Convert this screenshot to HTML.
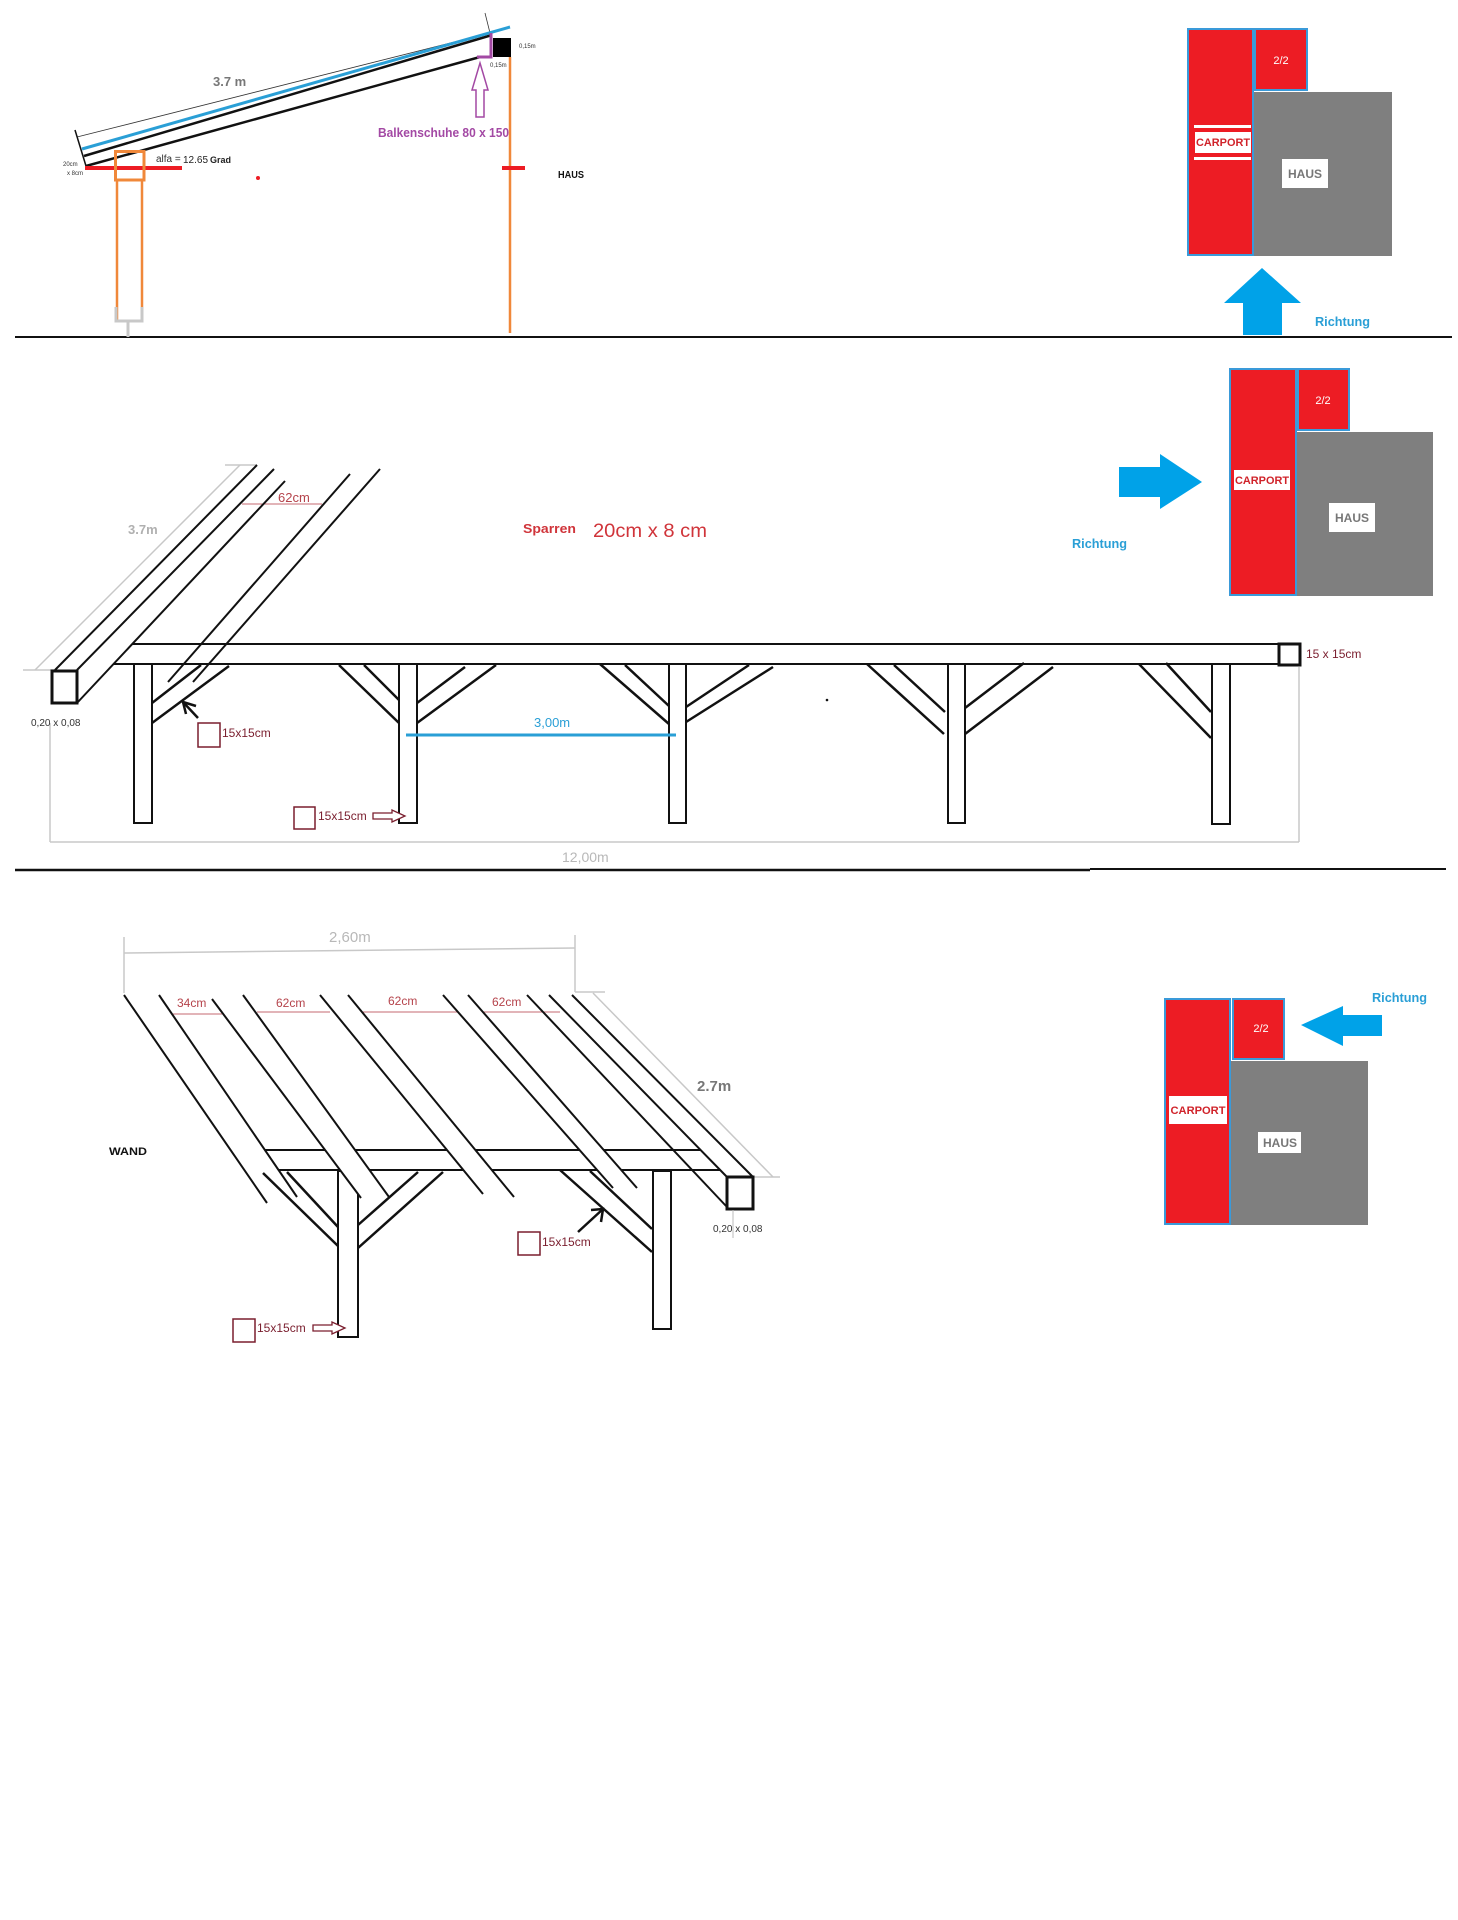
<!DOCTYPE html>
<html>
<head>
<meta charset="utf-8">
<style>
html,body{margin:0;padding:0;background:#fff;}
svg{display:block;}
text{font-family:"Liberation Sans",sans-serif;}
</style>
</head>
<body>
<svg width="1458" height="1920" viewBox="0 0 1458 1920" xmlns="http://www.w3.org/2000/svg">
<rect x="0" y="0" width="1458" height="1920" fill="#fff"/>

<!-- ================= TOP SECTION ================= -->
<line x1="15" y1="337" x2="1452" y2="337" stroke="#111" stroke-width="2"/>

<line x1="77" y1="137" x2="490" y2="33" stroke="#333" stroke-width="0.8"/>
<line x1="485" y1="13" x2="490" y2="33" stroke="#333" stroke-width="0.8"/>
<line x1="75" y1="130" x2="86" y2="166" stroke="#111" stroke-width="1.5"/>
<line x1="84" y1="156" x2="492" y2="35" stroke="#111" stroke-width="2.5"/>
<line x1="82" y1="149" x2="510" y2="27" stroke="#2a9fd6" stroke-width="3"/>
<line x1="86" y1="166" x2="480" y2="57" stroke="#111" stroke-width="2.5"/>
<line x1="85" y1="168" x2="182" y2="168" stroke="#ed1c24" stroke-width="4"/>
<rect x="115.5" y="151.5" width="28.5" height="28.5" fill="none" stroke="#f0883a" stroke-width="3"/>
<line x1="117" y1="180" x2="117" y2="320" stroke="#f0883a" stroke-width="2.5"/>
<line x1="142" y1="180" x2="142" y2="320" stroke="#f0883a" stroke-width="2.5"/>
<path d="M116 307 L116 321 L142 321 L142 307" fill="none" stroke="#c8c8c8" stroke-width="3"/>
<line x1="128" y1="321" x2="128" y2="337" stroke="#c8c8c8" stroke-width="3"/>

<text x="63" y="166" font-size="6" fill="#333">20cm</text>
<text x="67" y="175" font-size="6" fill="#333">x 8cm</text>
<text x="156" y="162" font-size="10" fill="#333">alfa =</text>
<text x="183" y="163" font-size="10" fill="#222">12.65</text>
<text x="210" y="163" font-size="9" font-weight="bold" fill="#222">Grad</text>
<text x="213" y="86" font-size="13" font-weight="bold" fill="#777">3.7 m</text>
<circle cx="258" cy="178" r="2" fill="#ed1c24"/>

<rect x="493" y="38" width="18" height="19" fill="#000"/>
<path d="M491 33 L491 57 L477 57" fill="none" stroke="#a349a4" stroke-width="3"/>
<line x1="510" y1="57" x2="510" y2="333" stroke="#f0883a" stroke-width="2.5"/>
<line x1="502" y1="168" x2="525" y2="168" stroke="#ed1c24" stroke-width="4"/>
<text x="519" y="48" font-size="6" fill="#333">0,15m</text>
<text x="490" y="67" font-size="6" fill="#333">0,15m</text>
<path d="M480 63 L488 90 L484 90 L484 117 L476 117 L476 90 L472 90 Z" fill="#fff" stroke="#a349a4" stroke-width="1.5"/>
<text x="378" y="137" font-size="13" font-weight="bold" fill="#a349a4" textLength="131" lengthAdjust="spacingAndGlyphs">Balkenschuhe 80 x 150</text>
<text x="558" y="178" font-size="10" font-weight="bold" fill="#111" textLength="26" lengthAdjust="spacingAndGlyphs">HAUS</text>

<rect x="1253" y="92" width="139" height="164" fill="#7f7f7f"/>
<rect x="1188" y="29" width="65" height="226" fill="#ed1c24" stroke="#3a9ad9" stroke-width="2"/>
<rect x="1255" y="29" width="52" height="61" fill="#ed1c24" stroke="#3a9ad9" stroke-width="2"/>
<text x="1281" y="64" font-size="11" fill="#fff" text-anchor="middle">2/2</text>
<rect x="1194" y="125" width="57" height="3" fill="#fff"/>
<rect x="1194" y="157" width="57" height="3" fill="#fff"/>
<rect x="1195" y="132" width="56" height="21" fill="#fff"/>
<text x="1223" y="146" font-size="11" font-weight="bold" fill="#d0232a" text-anchor="middle" textLength="54" lengthAdjust="spacingAndGlyphs">CARPORT</text>
<rect x="1282" y="159" width="46" height="29" fill="#fff"/>
<text x="1305" y="178" font-size="12" font-weight="bold" fill="#777" text-anchor="middle">HAUS</text>
<polygon points="1262,268 1301,303 1282,303 1282,335 1243,335 1243,303 1224,303" fill="#00a2e8"/>
<text x="1315" y="326" font-size="13" font-weight="bold" fill="#2a9fd6" textLength="55" lengthAdjust="spacingAndGlyphs">Richtung</text>

<!-- ================= MIDDLE SECTION ================= -->
<line x1="35" y1="670" x2="240" y2="465" stroke="#c8c8c8" stroke-width="1.5"/>
<line x1="225" y1="465" x2="257" y2="465" stroke="#c8c8c8" stroke-width="1.5"/>
<line x1="23" y1="670" x2="55" y2="670" stroke="#c8c8c8" stroke-width="1.5"/>
<text x="128" y="534" font-size="13" font-weight="bold" fill="#b0b0b0">3.7m</text>
<line x1="242" y1="504" x2="322" y2="504" stroke="#c46a70" stroke-width="1"/>
<text x="278" y="502" font-size="13" fill="#b5434b">62cm</text>

<line x1="55" y1="670" x2="257" y2="465" stroke="#111" stroke-width="2"/>
<line x1="77" y1="670" x2="274" y2="469" stroke="#111" stroke-width="2"/>
<line x1="77" y1="703" x2="285" y2="481" stroke="#111" stroke-width="2"/>
<line x1="168" y1="682" x2="350" y2="474" stroke="#111" stroke-width="2"/>
<line x1="193" y1="682" x2="380" y2="469" stroke="#111" stroke-width="2"/>
<rect x="52" y="671" width="25" height="32" fill="#fff" stroke="#111" stroke-width="3"/>

<line x1="132" y1="644" x2="1278" y2="644" stroke="#111" stroke-width="2"/>
<line x1="113" y1="664" x2="1278" y2="664" stroke="#111" stroke-width="2"/>
<rect x="1279" y="644" width="21" height="21" fill="#fff" stroke="#111" stroke-width="3"/>
<text x="1306" y="658" font-size="12" fill="#7a1e2e">15 x 15cm</text>

<g fill="#fff" stroke="#111" stroke-width="2">
<rect x="134" y="664" width="18" height="159"/>
<rect x="399" y="664" width="18" height="159"/>
<rect x="669" y="664" width="17" height="159"/>
<rect x="948" y="664" width="17" height="159"/>
<rect x="1212" y="664" width="18" height="160"/>
</g>
<g stroke="#111" stroke-width="2.5">
<line x1="152" y1="703" x2="201" y2="665"/>
<line x1="152" y1="723" x2="229" y2="666"/>
<line x1="339" y1="665" x2="399" y2="723"/>
<line x1="364" y1="665" x2="399" y2="700"/>
<line x1="417" y1="703" x2="465" y2="667"/>
<line x1="417" y1="723" x2="496" y2="665"/>
<line x1="600" y1="664" x2="669" y2="724"/>
<line x1="625" y1="665" x2="669" y2="706"/>
<line x1="686" y1="707" x2="749" y2="665"/>
<line x1="686" y1="722" x2="773" y2="667"/>
<line x1="867" y1="664" x2="944" y2="734"/>
<line x1="894" y1="665" x2="945" y2="712"/>
<line x1="965" y1="708" x2="1024" y2="663"/>
<line x1="965" y1="734" x2="1053" y2="667"/>
<line x1="1139" y1="664" x2="1211" y2="738"/>
<line x1="1166" y1="663" x2="1211" y2="712"/>
</g>
<g stroke="#111" stroke-width="2.5" fill="none">
<line x1="198" y1="718" x2="183" y2="702"/>
<path d="M196 706 L183 702 L186 714"/>
</g>
<circle cx="827" cy="700" r="1.3" fill="#111"/>

<g stroke="#c8c8c8" stroke-width="1.5">
<line x1="50" y1="723" x2="50" y2="842"/>
<line x1="50" y1="842" x2="1299" y2="842"/>
<line x1="1299" y1="667" x2="1299" y2="842"/>
</g>
<text x="562" y="862" font-size="14" fill="#b8b8b8">12,00m</text>
<line x1="406" y1="735" x2="676" y2="735" stroke="#2a9fd6" stroke-width="3"/>
<text x="534" y="727" font-size="13" fill="#2a9fd6">3,00m</text>

<text x="31" y="726" font-size="10" fill="#333">0,20 x 0,08</text>
<rect x="198" y="723" width="22" height="24" fill="none" stroke="#7a1e2e" stroke-width="1.5"/>
<text x="222" y="737" font-size="12" fill="#7a1e2e">15x15cm</text>
<rect x="294" y="807" width="21" height="22" fill="none" stroke="#7a1e2e" stroke-width="1.5"/>
<text x="318" y="820" font-size="12" fill="#7a1e2e">15x15cm</text>
<path d="M373 813 L392 813 L392 810 L405 816 L392 822 L392 819 L373 819 Z" fill="#fff" stroke="#7a1e2e" stroke-width="1.3"/>

<text x="523" y="533" font-size="13" font-weight="bold" fill="#d0343a" textLength="53" lengthAdjust="spacingAndGlyphs">Sparren</text>
<text x="593" y="537" font-size="19" fill="#d0343a" textLength="114" lengthAdjust="spacingAndGlyphs">20cm x 8 cm</text>

<rect x="1296" y="432" width="137" height="164" fill="#7f7f7f"/>
<rect x="1230" y="369" width="66" height="226" fill="#ed1c24" stroke="#3a9ad9" stroke-width="2"/>
<rect x="1298" y="369" width="51" height="61" fill="#ed1c24" stroke="#3a9ad9" stroke-width="2"/>
<text x="1323" y="404" font-size="11" fill="#fff" text-anchor="middle">2/2</text>
<rect x="1234" y="470" width="56" height="20" fill="#fff"/>
<text x="1262" y="484" font-size="11" font-weight="bold" fill="#d0232a" text-anchor="middle" textLength="54" lengthAdjust="spacingAndGlyphs">CARPORT</text>
<rect x="1329" y="503" width="46" height="29" fill="#fff"/>
<text x="1352" y="522" font-size="12" font-weight="bold" fill="#777" text-anchor="middle">HAUS</text>
<polygon points="1119,467 1160,467 1160,454 1202,482 1160,509 1160,497 1119,497" fill="#00a2e8"/>
<text x="1072" y="548" font-size="13" font-weight="bold" fill="#2a9fd6" textLength="55" lengthAdjust="spacingAndGlyphs">Richtung</text>

<line x1="15" y1="870" x2="1090" y2="870" stroke="#111" stroke-width="2.5"/>
<line x1="1090" y1="869" x2="1446" y2="869" stroke="#111" stroke-width="2"/>

<!-- ================= BOTTOM SECTION ================= -->
<g stroke="#c8c8c8" stroke-width="1.5" fill="none">
<line x1="124" y1="937" x2="124" y2="993"/>
<line x1="124" y1="953" x2="575" y2="948"/>
<line x1="575" y1="935" x2="575" y2="992"/>
<line x1="575" y1="992" x2="605" y2="992"/>
<line x1="593" y1="993" x2="773" y2="1177"/>
<line x1="753" y1="1177" x2="780" y2="1177"/>
</g>
<text x="329" y="942" font-size="15" fill="#b8b8b8">2,60m</text>
<text x="697" y="1091" font-size="15" font-weight="bold" fill="#777">2.7m</text>

<g stroke="#c46a70" stroke-width="1">
<line x1="173" y1="1014" x2="222" y2="1014"/>
<line x1="257" y1="1012" x2="330" y2="1012"/>
<line x1="363" y1="1012" x2="457" y2="1012"/>
<line x1="440" y1="1012" x2="560" y2="1012"/>
</g>
<text x="177" y="1007" font-size="12" fill="#b5434b">34cm</text>
<text x="276" y="1007" font-size="12" fill="#b5434b">62cm</text>
<text x="388" y="1005" font-size="12" fill="#b5434b">62cm</text>
<text x="492" y="1006" font-size="12" fill="#b5434b">62cm</text>

<line x1="263" y1="1150" x2="725" y2="1150" stroke="#111" stroke-width="2"/>
<line x1="278" y1="1170" x2="727" y2="1170" stroke="#111" stroke-width="2"/>

<g fill="#fff" stroke="#111" stroke-width="2">
<rect x="338" y="1171" width="20" height="166"/>
<rect x="653" y="1171" width="18" height="158"/>
</g>
<g stroke="#111" stroke-width="2.5">
<line x1="358" y1="1225" x2="418" y2="1172"/>
<line x1="358" y1="1248" x2="443" y2="1172"/>
<line x1="560" y1="1170" x2="652" y2="1252"/>
<line x1="590" y1="1171" x2="652" y2="1229"/>
</g>

<g fill="#fff" stroke="none">
<polygon points="124,995 159,995 297,1197 267,1203"/>
<polygon points="212,999 243,995 389,1197 361,1198"/>
<polygon points="320,995 348,995 514,1197 483,1194"/>
<polygon points="443,995 468,995 637,1188 613,1188"/>
<polygon points="549,995 572,995 753,1177 727,1177"/>
</g>
<g stroke="#111" stroke-width="2">
<line x1="124" y1="995" x2="267" y2="1203"/>
<line x1="159" y1="995" x2="297" y2="1197"/>
<line x1="212" y1="999" x2="361" y2="1198"/>
<line x1="243" y1="995" x2="389" y2="1197"/>
<line x1="320" y1="995" x2="483" y2="1194"/>
<line x1="348" y1="995" x2="514" y2="1197"/>
<line x1="443" y1="995" x2="613" y2="1188"/>
<line x1="468" y1="995" x2="637" y2="1188"/>
<line x1="527" y1="995" x2="727" y2="1207"/>
<line x1="549" y1="995" x2="727" y2="1177"/>
<line x1="572" y1="995" x2="753" y2="1177"/>
</g>
<g stroke="#111" stroke-width="2.5">
<line x1="263" y1="1173" x2="338" y2="1246"/>
<line x1="287" y1="1172" x2="338" y2="1227"/>
</g>
<rect x="727" y="1177" width="26" height="32" fill="#fff" stroke="#111" stroke-width="3"/>
<line x1="733" y1="1210" x2="733" y2="1238" stroke="#bbb" stroke-width="1"/>
<text x="713" y="1232" font-size="10" fill="#333">0,20 x 0,08</text>

<g stroke="#111" stroke-width="2.5" fill="none">
<line x1="578" y1="1232" x2="603" y2="1209"/>
<path d="M591 1210 L603 1209 L601 1222"/>
</g>

<text x="109" y="1155" font-size="11" font-weight="bold" fill="#111" textLength="38" lengthAdjust="spacingAndGlyphs">WAND</text>

<rect x="518" y="1232" width="22" height="23" fill="none" stroke="#7a1e2e" stroke-width="1.5"/>
<text x="542" y="1246" font-size="12" fill="#7a1e2e">15x15cm</text>
<rect x="233" y="1319" width="22" height="23" fill="none" stroke="#7a1e2e" stroke-width="1.5"/>
<text x="257" y="1332" font-size="12" fill="#7a1e2e">15x15cm</text>
<path d="M313 1325 L332 1325 L332 1322 L345 1328 L332 1334 L332 1331 L313 1331 Z" fill="#fff" stroke="#7a1e2e" stroke-width="1.3"/>

<rect x="1230" y="1061" width="138" height="164" fill="#7f7f7f"/>
<rect x="1165" y="999" width="65" height="225" fill="#ed1c24" stroke="#3a9ad9" stroke-width="2"/>
<rect x="1233" y="999" width="51" height="60" fill="#ed1c24" stroke="#3a9ad9" stroke-width="2"/>
<text x="1261" y="1032" font-size="11" fill="#fff" text-anchor="middle">2/2</text>
<rect x="1169" y="1096" width="58" height="28" fill="#fff"/>
<text x="1198" y="1114" font-size="11" font-weight="bold" fill="#d0232a" text-anchor="middle" textLength="55" lengthAdjust="spacingAndGlyphs">CARPORT</text>
<rect x="1258" y="1132" width="43" height="21" fill="#fff"/>
<text x="1280" y="1147" font-size="12" font-weight="bold" fill="#777" text-anchor="middle">HAUS</text>
<polygon points="1301,1025 1343,1006 1343,1015 1382,1015 1382,1036 1343,1036 1343,1046" fill="#00a2e8"/>
<text x="1372" y="1002" font-size="13" font-weight="bold" fill="#2a9fd6" textLength="55" lengthAdjust="spacingAndGlyphs">Richtung</text>

</svg>
</body>
</html>
